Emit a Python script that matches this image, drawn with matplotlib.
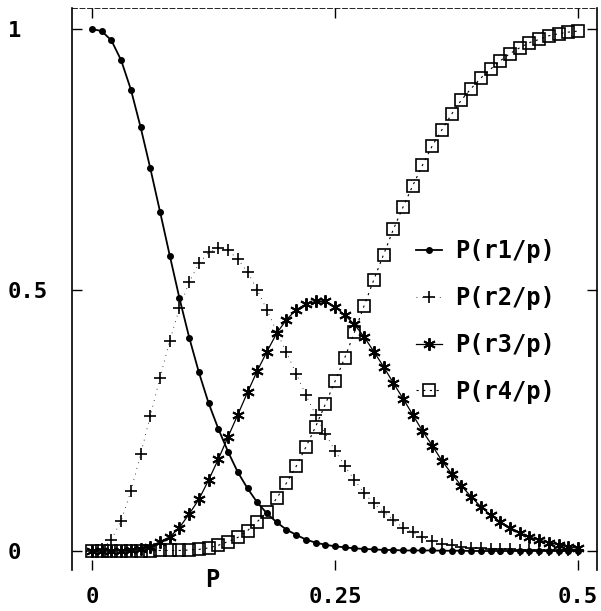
import numpy as np
import matplotlib
matplotlib.use("Agg")
import matplotlib.pyplot as plt

# data, step 0.01 on p
p = np.round(np.arange(0, 0.501, 0.01), 2)

r1 = [1.0, 0.996, 0.978, 0.94, 0.884, 0.812, 0.733, 0.65, 0.566, 0.484,
      0.409, 0.342, 0.283, 0.234, 0.19, 0.151, 0.12, 0.093, 0.072, 0.055,
      0.041, 0.031, 0.022, 0.016, 0.012, 0.009, 0.007, 0.005, 0.004, 0.003,
      0.002, 0.002, 0.001, 0.001, 0.001, 0.001, 0.0005, 0.0005, 0.0005, 0.0,
      0.0, 0.0, 0.0, 0.0, 0.0, 0.0, 0.0, 0.0, 0.0, 0.0, 0.0]

r2 = [0.0, 0.003, 0.022, 0.058, 0.115, 0.185, 0.259, 0.332, 0.403, 0.465,
      0.515, 0.551, 0.572, 0.58, 0.576, 0.559, 0.535, 0.5, 0.462, 0.42,
      0.381, 0.34, 0.299, 0.261, 0.225, 0.192, 0.163, 0.136, 0.111, 0.091,
      0.075, 0.059, 0.045, 0.036, 0.026, 0.02, 0.014, 0.011, 0.008, 0.006,
      0.005, 0.004, 0.003, 0.003, 0.002, 0.002, 0.002, 0.001, 0.001, 0.001, 0.001]

r3 = [0.0, 0.0, 0.0, 0.0005, 0.001, 0.003, 0.008, 0.018, 0.027, 0.045,
      0.071, 0.099, 0.136, 0.176, 0.219, 0.261, 0.304, 0.345, 0.382, 0.417,
      0.443, 0.462, 0.473, 0.478, 0.478, 0.468, 0.452, 0.434, 0.41, 0.382,
      0.353, 0.322, 0.292, 0.261, 0.23, 0.202, 0.173, 0.148, 0.125, 0.104,
      0.085, 0.069, 0.056, 0.045, 0.035, 0.027, 0.021, 0.016, 0.012, 0.008, 0.005]

r4 = [0.0, 0.0, 0.0, 0.0, 0.0, 0.0, 0.0005, 0.001, 0.001, 0.001,
      0.002, 0.003, 0.006, 0.011, 0.018, 0.026, 0.039, 0.056, 0.075, 0.101,
      0.13, 0.162, 0.199, 0.238, 0.281, 0.325, 0.37, 0.419, 0.47, 0.52,
      0.568, 0.616, 0.659, 0.70, 0.739, 0.776, 0.807, 0.837, 0.864, 0.886,
      0.906, 0.923, 0.939, 0.953, 0.964, 0.974, 0.98, 0.987, 0.991, 0.994, 0.996]

labels = ['P(r1/p)', 'P(r2/p)', 'P(r3/p)', 'P(r4/p)']
xticks = [0, 0.25, 0.5]
xticklabels = ['0', '0.25', '0.5']
yticks = [0, 0.5, 1]
yticklabels = ['0', '0.5', '1']

plt.rcParams['font.family'] = 'DejaVu Sans Mono'
plt.rcParams['font.weight'] = 'bold'

fig = plt.figure(figsize=(6.01, 6.11), dpi=100)
ax = fig.add_axes([72/601, 41/611, 525/601, 562/611])

ax.plot(p, r1, color='black', lw=1.3, marker='o', ms=4, label=labels[0])
ax.plot(p, r2, color='black', lw=0.6, ls=(0, (1, 6)), marker='+', ms=9, mew=1.2, label=labels[1])
ax.plot(p, r3, color='black', lw=0.9, marker=(6, 2, 0), ms=9, mew=1.4, label=labels[2])
ax.plot(p, r4, color='black', lw=0.8, ls=(0, (2, 4)), marker='s', ms=8, mew=1.2,
        mfc='none', label=labels[3])

ax.set_xlim(-20/972, 0.5 + 19/972)
ax.set_ylim(-19/522, 1 + 21/522)

ax.spines['bottom'].set_visible(False)
ax.spines['top'].set_linewidth(0.6)
ax.spines['top'].set_linestyle((0, (6, 3)))
ax.spines['left'].set_linewidth(1.2)
ax.spines['right'].set_linewidth(1.2)

ax.set_xticks(xticks)
ax.set_xticklabels(xticklabels, fontsize=16, fontweight='bold')
ax.set_yticks(yticks)
ax.set_yticklabels(yticklabels, fontsize=16, fontweight='bold', ha='left')
ax.tick_params(axis='both', direction='in', length=7, width=1,
               top=True, right=True)
ax.tick_params(axis='x', pad=12)
ax.tick_params(axis='y', pad=46)

ax.set_xlabel('P', fontsize=17, fontweight='bold')
ax.xaxis.set_label_coords((212 - 72) / 525, 2/562, transform=ax.transAxes)

ax.legend(loc='upper left', bbox_to_anchor=(416/601, 1 - 239/611),
          bbox_transform=fig.transFigure, frameon=False,
          handlelength=1.1, handletextpad=0.55, labelspacing=0.97,
          borderpad=0, borderaxespad=0, numpoints=1,
          prop={'family': 'DejaVu Sans Mono', 'weight': 'bold', 'size': 17})

fig.savefig('out.png', dpi=100)
